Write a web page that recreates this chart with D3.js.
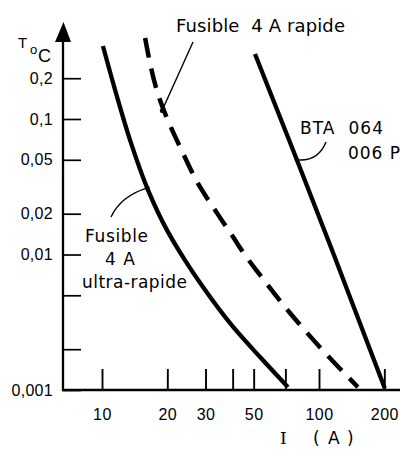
<!DOCTYPE html>
<html><head><meta charset="utf-8">
<script src="https://cdn.jsdelivr.net/npm/d3@7"></script>
<style>html,body{margin:0;padding:0;background:#fff;} svg{display:block;}</style>
</head><body>
<svg id="c" width="400" height="449"></svg>
<script>
// ---- data ----
const xTicks = [10, 20, 30, 40, 50, 70, 100, 200];
const xTickLabels = ["10", "20", "30", "", "50", "", "100", "200"];
const yTicks = [0.001, 0.002, 0.005, 0.01, 0.02, 0.05, 0.1, 0.2];
const yTickLabels = ["0,001", "", "", "0,01", "0,02", "0,05", "0,1", "0,2"];

const ultraI = [10.1, 11.85, 13.6, 16.3, 19.9, 24.1, 29.2, 40.2, 53.5, 71.9];
const ultraT = [0.346, 0.138, 0.0666, 0.0299, 0.0152, 0.0091, 0.00575, 0.00292, 0.00175, 0.00105];
const rapideI = [15.8, 18.5, 23.6, 28.3, 33.9, 40.2, 45.6, 53.5, 73.5, 101, 151];
const rapideT = [0.396, 0.138, 0.0561, 0.0315, 0.0202, 0.01345, 0.0099, 0.00706, 0.0037, 0.00207, 0.00105];
const btaI = [50.7, 75.9, 114.8, 201];
const btaT = [0.302, 0.059, 0.0108, 0.00103];

const labelRapide = "Fusible  4 A rapide";
const labelBta1 = "BTA  064";
const labelBta2 = "006 P";
const labelUltra = ["Fusible", "4 A", "ultra-rapide"];

// ---- scales ----
const x = d3.scaleLog().domain([10, 100]).range([102, 319]);
const y = d3.scaleLog().domain([0.001, 0.1]).range([390, 119]);
const svg = d3.select("#c");
const font = "Liberation Sans, Arial, sans-serif";
const afont = "DejaVu Sans, sans-serif";

// ---- axes ----
const xa = svg.append("g").attr("transform", "translate(0," + y(0.001) + ")")
  .call(d3.axisBottom(x).tickValues(xTicks)
    .tickFormat(d => xTickLabels[xTicks.indexOf(d)])
    .tickSizeInner(-21).tickSizeOuter(0).tickPadding(19));
xa.select(".domain").remove();
xa.selectAll("line").attr("stroke", "#000").attr("stroke-width", 1.9);
xa.selectAll("text").attr("font-family", font).attr("font-size", 16).attr("fill", "#000").attr("letter-spacing", 0.5);

const ya = svg.append("g").attr("transform", "translate(63,0)")
  .call(d3.axisLeft(y).tickValues(yTicks)
    .tickFormat(d => yTickLabels[yTicks.indexOf(d)])
    .tickSizeInner(-18).tickSizeOuter(0).tickPadding(10));
ya.select(".domain").remove();
ya.selectAll("line").attr("stroke", "#000").attr("stroke-width", 1.7);
ya.selectAll("text").attr("font-family", font).attr("font-size", 16).attr("fill", "#000").attr("letter-spacing", 0.3);

// axis lines
const y0 = y(0.001);
svg.append("line").attr("x1", 62).attr("x2", 400).attr("y1", y0).attr("y2", y0)
  .attr("stroke", "#000").attr("stroke-width", 2.3);
svg.append("line").attr("x1", 63).attr("x2", 63).attr("y1", y0 + 1).attr("y2", 38)
  .attr("stroke", "#000").attr("stroke-width", 2.3);
svg.append("path").attr("d", "M63.5,22 L55,42 L71,42 Z").attr("fill", "#000");

// axis titles
svg.append("text").attr("x", 18).attr("y", 48).attr("font-family", font).attr("font-size", 15).text("T");
svg.append("text").attr("x", 30).attr("y", 54).attr("font-family", font).attr("font-size", 13).text("o");
svg.append("text").attr("x", 38).attr("y", 62).attr("font-family", font).attr("font-size", 18).text("C");
const xt = svg.append("text").attr("y", 444).attr("font-size", 17).attr("fill", "#000");
xt.append("tspan").attr("x", 280).attr("font-family", "DejaVu Serif, serif").text("I");
xt.append("tspan").attr("x", 313).attr("font-family", afont).text("(");
xt.append("tspan").attr("x", 328).attr("font-family", afont).text("A");
xt.append("tspan").attr("x", 347).attr("font-family", afont).text(")");

// ---- curves ----
const line = d3.line().x(d => x(d[0])).y(d => y(d[1])).curve(d3.curveMonotoneY);
svg.append("path").attr("d", line(d3.zip(ultraI, ultraT)))
  .attr("fill", "none").attr("stroke", "#000").attr("stroke-width", 4.3);
svg.append("path").attr("d", line(d3.zip(rapideI, rapideT)))
  .attr("fill", "none").attr("stroke", "#000").attr("stroke-width", 4.5)
  .attr("stroke-dasharray", "20,11");
svg.append("path").attr("d", line(d3.zip(btaI, btaT)))
  .attr("fill", "none").attr("stroke", "#000").attr("stroke-width", 4.3);

// ---- annotations ----
function txt(s, px, py, len, size) {
  svg.append("text").attr("x", px).attr("y", py).attr("font-family", afont)
    .attr("font-size", size).attr("fill", "#000").attr("xml:space", "preserve")
    .style("white-space", "pre").text(s).attr("textLength", len).attr("lengthAdjust", "spacing");
}
txt(labelRapide, 176, 32, 169, 18);
txt(labelBta1, 300, 134, 83, 17);
txt(labelBta2, 348, 159, 52, 17);
txt(labelUltra[0], 85, 242, 63, 17);
txt(labelUltra[1], 105, 265, 30, 17);
txt(labelUltra[2], 82, 288, 105, 17);

// pointers (end on the curves, via scales)
function pointer(d, ex, ey) {
  svg.append("path").attr("d", d).attr("fill", "none").attr("stroke", "#000").attr("stroke-width", 1.4);
  svg.append("circle").attr("cx", ex).attr("cy", ey).attr("r", 2.2).attr("fill", "#000");
}
const rpX = x(18.9), rpY = y(0.115);
pointer(`M193,42 L${rpX},${rpY}`, rpX, rpY);
const bpX = x(79), bpY = y(0.05);
pointer(`M326,142 Q318,162 ${bpX},${bpY}`, bpX, bpY);
const upX = x(16.2), upY = y(0.031);
pointer(`M111,217 Q121,196 ${upX},${upY}`, upX, upY);
</script>
</body></html>
